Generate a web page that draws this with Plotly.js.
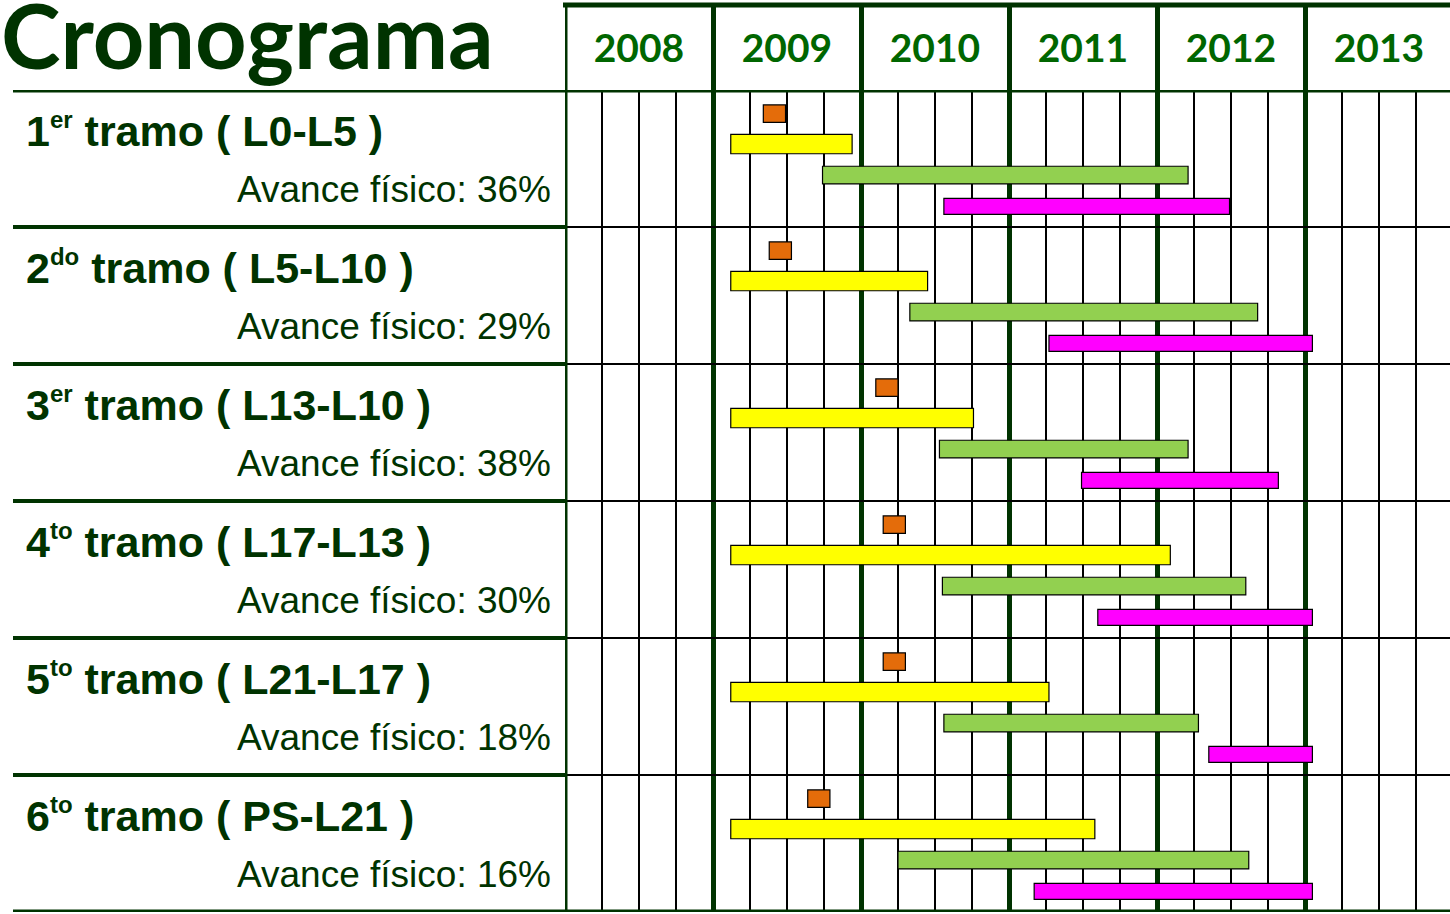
<!DOCTYPE html>
<html>
<head>
<meta charset="utf-8">
<script src="https://cdn.plot.ly/plotly-3.0.1.min.js"></script>
<style>html,body{margin:0;padding:0;background:#fff;}#chart{width:1450px;height:914px;}</style>
</head>
<body>
<div id="chart"></div>
<script>
// ---- data ----
const years = [2008, 2009, 2010, 2011, 2012, 2013];
const tramoNum = ['1', '2', '3', '4', '5', '6'];
const tramoSuffix = ['er', 'do', 'er', 'to', 'to', 'to'];
const tramoSection = ['L0-L5', 'L5-L10', 'L13-L10', 'L17-L13', 'L21-L17', 'PS-L21'];
const avanceFisico = [36, 29, 38, 30, 18, 16];

// activity start / end, in decimal years
const hitoStart    = [2009.34, 2009.38, 2010.10, 2010.15, 2010.15, 2009.64];
const hitoEnd      = [2009.49, 2009.53, 2010.25, 2010.30, 2010.30, 2009.79];
const fase1Start   = [2009.12, 2009.12, 2009.12, 2009.12, 2009.12, 2009.12];
const fase1End     = [2009.94, 2010.45, 2010.76, 2012.09, 2011.27, 2011.58];
const fase2Start   = [2009.74, 2010.33, 2010.53, 2010.55, 2010.56, 2010.25];
const fase2End     = [2012.21, 2012.68, 2012.21, 2012.60, 2012.28, 2012.62];
const fase3Start   = [2010.56, 2011.27, 2011.49, 2011.60, 2012.35, 2011.17];
const fase3End     = [2012.49, 2013.05, 2012.82, 2013.05, 2013.05, 2013.05];

// ---- styling ----
const DARK = '#003300';
const W = 1450, H = 914;
const gridLeft = 565, rowTop = 90, rowBottom = 912, headTop = 5;
const yearPx = 148;
const xMax = 2008 + (W - gridLeft) / yearPx;

const series = [
  {name: 'Hito',   s: hitoStart,  e: hitoEnd,  color: '#E46C0A', off: 0.173, h: 0.128},
  {name: 'Fase 1', s: fase1Start, e: fase1End, color: '#FFFF00', off: 0.395, h: 0.141},
  {name: 'Fase 2', s: fase2Start, e: fase2End, color: '#92D050', off: 0.621, h: 0.129},
  {name: 'Fase 3', s: fase3Start, e: fase3End, color: '#FF00FF', off: 0.850, h: 0.117}
];

const rows = tramoNum.map((_, i) => i);
const traces = series.map(sr => ({
  type: 'bar', orientation: 'h', name: sr.name, showlegend: false,
  y: rows.map(i => i + sr.off),
  base: sr.s,
  x: sr.s.map((v, i) => sr.e[i] - v),
  width: rows.map(() => sr.h),
  marker: {color: sr.color, line: {color: '#000', width: 1.2}},
  hoverinfo: 'skip',
  xaxis: 'x', yaxis: 'y'
}));

traces.push({
  type: 'scatter', mode: 'text', xaxis: 'x2', yaxis: 'y2', showlegend: false,
  x: years.map(y => y + 0.5), y: years.map(() => 0.45),
  text: years.map(String), textposition: 'middle center',
  textfont: {family: 'Lato', size: 39, color: '#006600', weight: 700},
  cliponaxis: false, hoverinfo: 'skip'
});

const annotations = [];
rows.forEach(i => {
  annotations.push({
    xref: 'paper', yref: 'y', x: 24 / W, y: i + 0.295, xanchor: 'left', yanchor: 'middle',
    text: tramoNum[i] + '<sup><span style="font-size:24px">' + tramoSuffix[i] + '</span></sup> tramo ( ' + tramoSection[i] + ' )',
    showarrow: false,
    font: {family: 'Liberation Sans, Arial', size: 43, color: DARK, weight: 700}
  });
  annotations.push({
    xref: 'paper', yref: 'y', x: 553 / W, y: i + 0.723, xanchor: 'right', yanchor: 'middle',
    text: 'Avance físico: ' + avanceFisico[i] + '%',
    showarrow: false,
    font: {family: 'Liberation Sans, Arial', size: 37, color: DARK}
  });
});

const shapes = [];
for (let k = 0; k <= tramoNum.length; k++) {
  const full = (k === 0 || k === tramoNum.length);
  shapes.push({
    type: 'line', xref: 'paper', yref: 'y', x0: 13 / W, x1: full ? 1 : gridLeft / W,
    y0: k, y1: k, line: {color: DARK, width: full ? 5 : 4}
  });
}
// header top border
shapes.push({type: 'line', xref: 'paper', yref: 'y2 domain', x0: (gridLeft - 2) / W, x1: 1,
  y0: 1, y1: 1, line: {color: DARK, width: 5}});
// left border of the timeline
shapes.push({type: 'line', xref: 'x', yref: 'paper', x0: 2008, x1: 2008,
  y0: 1 - rowBottom / H, y1: 1 - headTop / H, line: {color: DARK, width: 5}});

const layout = {
  width: W, height: H,
  margin: {l: 0, r: 0, t: 0, b: 0, pad: 0},
  paper_bgcolor: '#fff', plot_bgcolor: '#fff',
  showlegend: false,
  barmode: 'overlay',
  title: {
    text: 'Cronograma', x: 1 / W, xanchor: 'left', xref: 'paper',
    y: 1 - 37 / H, yanchor: 'middle', yref: 'container',
    font: {family: 'Lato', size: 90, color: DARK, weight: 700}
  },
  xaxis: {
    domain: [gridLeft / W, 1], range: [2008, xMax], anchor: 'y',
    showgrid: true, tick0: 2008, dtick: 1, gridcolor: DARK, gridwidth: 5,
    minor: {tick0: 2008, dtick: 0.25, showgrid: true, gridcolor: '#000', gridwidth: 2.5},
    showticklabels: false, ticks: '', zeroline: false, showline: false, fixedrange: true
  },
  yaxis: {
    domain: [1 - rowBottom / H, 1 - rowTop / H], range: [tramoNum.length, 0], anchor: 'x',
    showgrid: true, tick0: 0, dtick: 1, gridcolor: '#000', gridwidth: 2.5,
    showticklabels: false, ticks: '', zeroline: false, showline: false, fixedrange: true
  },
  xaxis2: {
    domain: [gridLeft / W, 1], range: [2008, xMax], anchor: 'y2',
    showgrid: true, tick0: 2008, dtick: 1, gridcolor: DARK, gridwidth: 5,
    showticklabels: false, ticks: '', zeroline: false, showline: false, fixedrange: true
  },
  yaxis2: {
    domain: [1 - rowTop / H, 1 - headTop / H], range: [0, 1], anchor: 'x2',
    showgrid: false, showticklabels: false, ticks: '', zeroline: false, showline: false, fixedrange: true
  },
  annotations: annotations,
  shapes: shapes
};

Plotly.newPlot('chart', traces, layout, {displayModeBar: false, staticPlot: true});
</script>
</body>
</html>
